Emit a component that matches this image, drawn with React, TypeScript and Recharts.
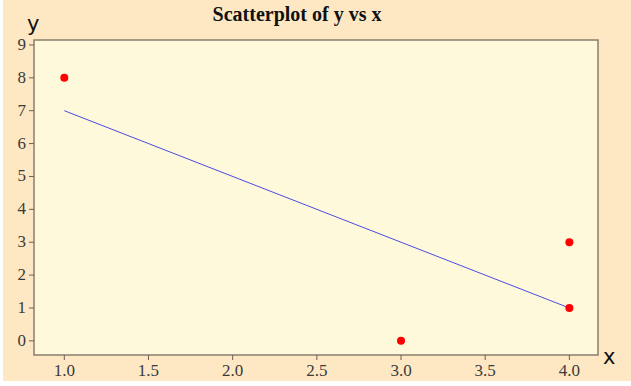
import { ScatterChart, Scatter, XAxis, YAxis, ReferenceArea } from 'recharts'

// observed points
const pointX = [1, 3, 4, 4]
const pointY = [8, 0, 3, 1]

// fitted line endpoints (y = 9 - 2x)
const fitX = [1, 4]
const fitY = [7, 1]

const xTicks = [1, 1.5, 2, 2.5, 3, 3.5, 4]
const yTicks = [0, 1, 2, 3, 4, 5, 6, 7, 8, 9]

const X_DOMAIN: [number, number] = [0.82, 4.17]
const Y_DOMAIN: [number, number] = [-0.43, 9.15]

const points = pointX.map((x, i) => ({ x, y: pointY[i] }))
const fit = fitX.map((x, i) => ({ x, y: fitY[i] }))

const labelFont = { fontFamily: '"Liberation Serif", serif', fontSize: 17, fill: '#3a3a3a' }

const XTick = (p: any) => (
    <text x={p.x} y={p.y + 14} textAnchor="middle" style={labelFont}>
        {Number(p.payload.value).toFixed(1)}
    </text>
)

const YTick = (p: any) => (
    <text x={p.x - 1} y={p.y + 5} textAnchor="end" style={labelFont}>
        {p.payload.value}
    </text>
)

export default function App() {
    return (
        <div style={{ position: 'absolute', left: 0, top: 0, width: 631, height: 386, background: '#fff' }}>
            <div style={{ position: 'absolute', left: 3, top: 0, width: 628, height: 381, background: '#FDE8C3' }}>
                <ScatterChart
                    width={628}
                    height={381}
                    margin={{ top: 40, right: 33, bottom: 2, left: 1 }}
                >
                    <XAxis
                        type="number"
                        dataKey="x"
                        domain={X_DOMAIN}
                        ticks={xTicks}
                        allowDataOverflow
                        axisLine={false}
                        tickLine={{ stroke: '#6b6055' }}
                        tickSize={5}
                        tick={XTick}
                        height={24}
                    />
                    <YAxis
                        type="number"
                        dataKey="y"
                        domain={Y_DOMAIN}
                        ticks={yTicks}
                        allowDataOverflow
                        axisLine={false}
                        tickLine={{ stroke: '#6b6055' }}
                        tickSize={5}
                        tick={YTick}
                        width={30}
                    />
                    <ReferenceArea
                        x1={X_DOMAIN[0]}
                        x2={X_DOMAIN[1]}
                        y1={Y_DOMAIN[0]}
                        y2={Y_DOMAIN[1]}
                        fill="#FFF9DC"
                        fillOpacity={1}
                        stroke="#8a7d6e"
                        strokeWidth={1.5}
                    />
                    <Scatter
                        data={fit}
                        line={{ stroke: '#4b4be0', strokeWidth: 1 }}
                        shape={() => null}
                        isAnimationActive={false}
                    />
                    <Scatter
                        data={points}
                        fill="#ff0000"
                        shape={(p: any) => <circle cx={p.cx} cy={p.cy} r={4} fill="#ff0000" />}
                        isAnimationActive={false}
                    />
                    <text x={294} y={21} textAnchor="middle" style={{ fontFamily: '"Liberation Serif", serif', fontWeight: 'bold', fontSize: 20, fill: '#111' }}>
                        Scatterplot of y vs x
                    </text>
                    <text x={24} y={31} style={{ fontFamily: '"DejaVu Sans", sans-serif', fontSize: 21, fill: '#111' }}>
                        y
                    </text>
                    <text x={600} y={364} style={{ fontFamily: '"DejaVu Sans", sans-serif', fontSize: 21, fill: '#111' }}>
                        x
                    </text>
                </ScatterChart>
            </div>
        </div>
    )
}
